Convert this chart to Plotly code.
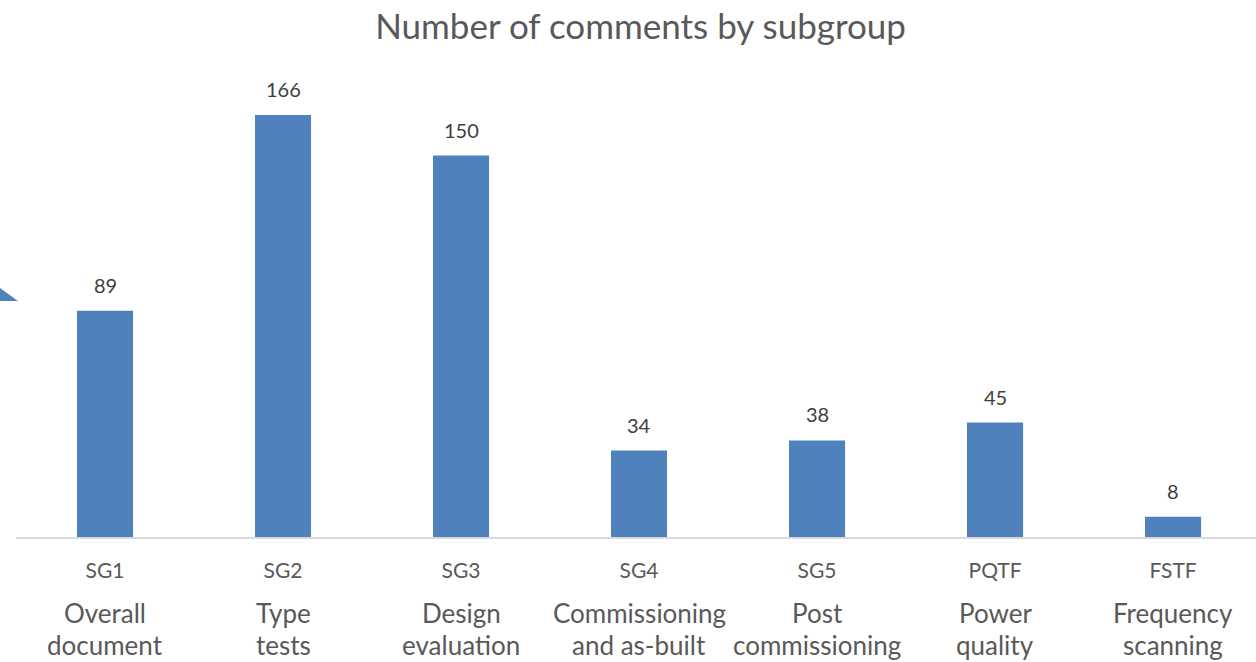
import plotly.graph_objects as go

codes = ["SG1", "SG2", "SG3", "SG4", "SG5", "PQTF", "FSTF"]
names = ["Overall<br>document", "Type<br>tests", "Design<br>evaluation",
         "Commissioning<br>and as-built", "Post<br>commissioning",
         "Power<br>quality", "Frequency<br>scanning"]
values = [89, 166, 150, 34, 38, 45, 8]

BAR = "#4f81bd"
FONT = "Lato, 'Open Sans', sans-serif"

fig = go.Figure()
fig.add_trace(go.Bar(
    x=codes, y=values, width=0.315,
    marker=dict(color=BAR, line=dict(width=0)),
    hoverinfo="skip",
))

ann = []
for c, v in zip(codes, values):
    ann.append(dict(x=c, y=v, xref="x", yref="y", text=str(v), showarrow=False,
                    yanchor="bottom", yshift=12,
                    font=dict(family=FONT, size=20, color="#404040")))
for c, n in zip(codes, names):
    for line, yp in zip(n.split("<br>"), [-0.1593, -0.2264]):
        ann.append(dict(x=c, y=yp, xref="x", yref="paper", text=line, showarrow=False,
                        yanchor="middle",
                        font=dict(family=FONT, size=26, color="#595959")))
fig.update_layout(annotations=ann)

fig.add_shape(type="path", xref="paper", yref="paper",
              path="M -0.0129,0.522 L 0.0016,0.4948 L -0.0129,0.4948 Z",
              fillcolor=BAR, line=dict(width=0))

fig.update_layout(
    width=1256, height=662,
    margin=dict(l=16, r=0, t=60, b=125),
    paper_bgcolor="white", plot_bgcolor="white",
    showlegend=False,
    title=dict(text="Number of comments by subgroup", x=0.51, xref="container",
               y=1 - 27 / 662, yref="container", xanchor="center", yanchor="middle",
               font=dict(family=FONT, size=35, color="#595959")),
    xaxis=dict(range=[-0.5, 6.466], showgrid=False, zeroline=False,
               showline=True, linecolor="#d9d9d9", linewidth=1.5,
               ticks="", tickfont=dict(family=FONT, size=21, color="#595959"),
               ticklabelstandoff=14),
    yaxis=dict(range=[0, 187.6], showgrid=False, zeroline=False,
               showticklabels=False, showline=False),
)

fig.write_html("out.html")
